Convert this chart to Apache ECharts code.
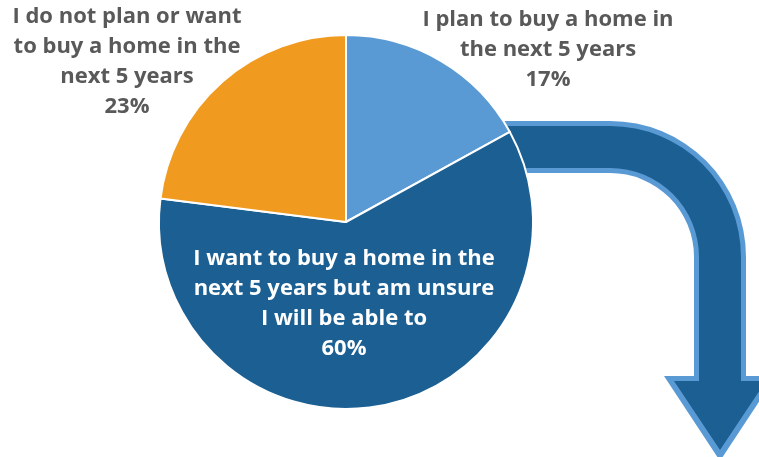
<!DOCTYPE html>
<html>
<head>
<meta charset="utf-8">
<script src="https://cdn.jsdelivr.net/npm/echarts@6/dist/echarts.min.js"></script>
<style>html,body{margin:0;padding:0;background:#fff}#c{width:759px;height:457px}</style>
</head>
<body>
<div id="c"></div>
<script>
var categories = [
  'I plan to buy a home in\nthe next 5 years',
  'I want to buy a home in the\nnext 5 years but am unsure\nI will be able to',
  'I do not plan or want\nto buy a home in the\nnext 5 years'
];
var values = [17, 60, 23];
var colors = ['#5A9AD4', '#1B5F93', '#F09B20'];

var labelSpots = [
  {x: 548, y: 50, color: '#595959'},
  {x: 344, y: 304, color: '#ffffff'},
  {x: 127, y: 62, color: '#595959'}
];

var LIGHT = '#5A9AD4', DARK = '#1B5F93';
function arrowLayer(inset, fill) {
  var d = inset;
  return [
    {type: 'rect', z: 0, shape: {x: 470, y: 121 + d, width: 141, height: 52 - 2 * d}, style: {fill: fill}},
    {type: 'sector', z: 0, shape: {cx: 610, cy: 257, r0: 84 + d, r: 136 - d, startAngle: -Math.PI / 2, endAngle: 0, clockwise: true}, style: {fill: fill}},
    {type: 'rect', z: 0, shape: {x: 694 + d, y: 256, width: 52 - 2 * d, height: 126}, style: {fill: fill}},
    {type: 'polygon', z: 0, shape: {points: [[664 + 2 * d, 376 + d], [776 - 2 * d, 376 + d], [720, 461 - 2.2 * d]]}, style: {fill: fill}}
  ];
}
var graphics = arrowLayer(0, LIGHT).concat(arrowLayer(5, DARK).map(function (g) { g.z = 1; return g; }));

var chart = echarts.init(document.getElementById('c'), null, {renderer: 'canvas'});
chart.setOption({
  animation: false,
  backgroundColor: '#ffffff',
  graphic: {elements: graphics},
  series: [{
    type: 'pie',
    z: 5,
    center: [346, 222],
    radius: 187,
    startAngle: 90,
    clockwise: true,
    data: categories.map(function (n, i) {
      return {
        name: n, value: values[i],
        itemStyle: {color: colors[i]},
        label: {color: labelSpots[i].color}
      };
    }),
    itemStyle: {borderColor: '#ffffff', borderWidth: 2},
    label: {
      show: true,
      position: 'inside',
      formatter: '{b}\n{c}%',
      fontFamily: '"Open Sans", sans-serif',
      fontWeight: 'bold',
      fontSize: 22,
      lineHeight: 30,
      align: 'center'
    },
    labelLine: {show: false},
    labelLayout: function (p) {
      var s = labelSpots[p.dataIndex];
      return {x: s.x, y: s.y, align: 'center', verticalAlign: 'middle'};
    },
    emphasis: {disabled: true}
  }]
});
</script>
</body>
</html>
